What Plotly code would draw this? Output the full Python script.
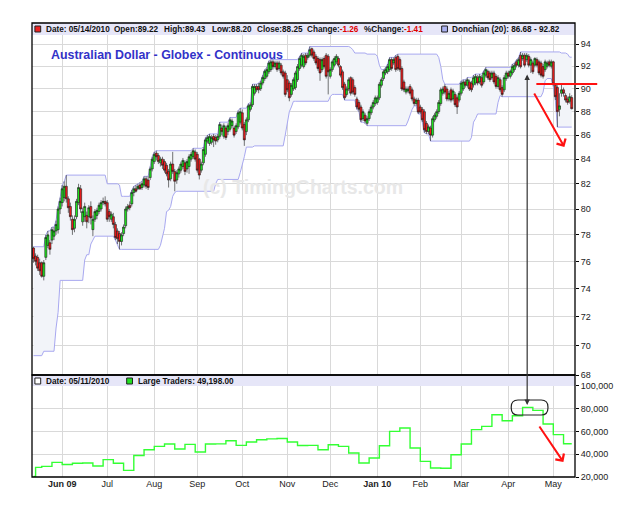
import math
import pandas as pd
import plotly.graph_objects as go

# ---------------- data ----------------
dates = pd.bdate_range("2009-05-12", "2010-05-14")
n = len(dates)
idx = list(range(n))

opens = [
    77.0, 76.4, 76.3, 75.9, 75.9, 74.9, 76.3, 77.2, 77.4, 77.6,
    77.9, 78.3, 78.4, 80.0, 80.5, 80.9, 81.8, 80.8, 80.2, 79.2,
    78.5, 79.4, 80.5, 81.6, 79.0, 79.4, 79.5, 79.4, 80.2, 78.4,
    79.2, 79.5, 79.8, 80.0, 80.5, 80.6, 80.5, 79.8, 79.2, 79.4,
    78.8, 78.3, 78.1, 77.5, 78.1, 78.7, 80.0, 80.3, 80.4, 81.3,
    81.6, 81.6, 81.9, 81.7, 81.9, 82.4, 82.3, 82.5, 83.2, 83.8,
    84.5, 84.3, 83.7, 84.0, 83.8, 83.5, 83.0, 82.4, 83.6, 83.0,
    82.3, 82.8, 83.1, 83.4, 83.7, 83.2, 83.4, 84.0, 84.2, 84.6,
    84.4, 84.0, 83.1, 83.7, 84.4, 85.5, 85.3, 85.4, 85.9, 85.8,
    85.6, 85.9, 86.6, 85.9, 86.6, 86.3, 86.5, 86.8, 86.6, 86.3,
    86.7, 87.1, 87.9, 86.9, 86.3, 87.3, 88.2, 88.6, 89.6, 90.2,
    90.2, 90.0, 90.5, 90.9, 91.1, 91.5, 91.7, 92.4, 91.97, 92.3,
    91.8, 92.1, 91.5, 91.4, 90.8, 90.5, 89.5, 89.98, 90.1, 90.8,
    91.8, 92.1, 91.97, 93.0, 92.8, 93.0, 93.6, 93.3, 92.9, 92.7,
    92.6, 91.7, 92.7, 93.0, 92.9, 91.1, 91.7, 92.1, 92.4, 92.7,
    91.97, 91.5, 90.4, 89.5, 89.98, 90.98, 90.8, 90.1, 89.1, 88.8,
    88.4, 87.4, 87.7, 87.0, 87.4, 87.9, 88.4, 88.7, 88.8, 89.2,
    90.3, 90.9, 91.4, 91.5, 91.7, 92.6, 92.3, 92.8, 92.9, 92.6,
    91.8, 90.6, 89.7, 89.8, 90.2, 89.9, 89.1, 88.7, 89.0, 88.4,
    88.2, 88.0, 87.0, 86.3, 86.6, 86.0, 87.3, 87.6, 88.0, 88.7,
    89.6, 90.2, 89.98, 89.1, 89.9, 89.1, 89.5, 89.2, 89.0, 89.6,
    89.98, 90.6, 90.3, 90.6, 90.5, 90.34, 90.5, 90.98, 90.6, 90.98,
    90.6, 91.2, 91.55, 91.4, 90.98, 91.4, 91.1, 90.2, 90.8, 90.1,
    89.9, 90.9, 91.4, 91.1, 91.4, 91.7, 92.4, 92.1, 93.0, 92.7,
    93.0, 92.6, 92.9, 92.1, 92.3, 92.1, 92.6, 92.4, 92.3, 91.97,
    91.7, 92.0, 92.4, 92.0, 92.4, 90.3, 90.1, 88.2, 89.6, 89.9,
    89.4, 89.1, 88.9, 89.22,
]
highs = [
    77.1, 76.6, 76.5, 76.2, 76.0, 76.1, 78.0, 78.3, 77.6, 78.6,
    78.6, 79.1, 80.2, 80.9, 81.9, 82.2, 82.7, 81.0, 80.5, 79.5,
    79.5, 80.8, 82.0, 81.9, 80.1, 80.5, 79.8, 80.3, 80.6, 79.5,
    80.0, 80.1, 80.5, 80.7, 80.9, 81.0, 80.7, 80.0, 79.8, 79.7,
    79.0, 78.5, 78.3, 78.2, 78.8, 80.2, 80.4, 80.6, 81.5, 81.8,
    81.9, 82.0, 82.1, 82.2, 82.6, 82.6, 82.6, 83.4, 84.2, 84.6,
    84.7, 84.5, 84.2, 84.2, 84.0, 83.7, 83.2, 83.8, 84.6, 83.2,
    83.1, 83.4, 83.8, 84.1, 83.9, 84.0, 84.4, 84.6, 84.9, 84.8,
    84.6, 84.1, 83.8, 85.0, 85.8, 86.0, 86.1, 86.0, 86.1, 86.0,
    86.1, 87.1, 86.9, 87.0, 86.8, 87.0, 87.5, 87.4, 86.8, 87.0,
    88.1, 88.3, 88.2, 87.1, 87.5, 88.7, 88.8, 90.4, 90.4, 90.4,
    90.5, 90.7, 91.2, 91.7, 91.9, 92.5, 92.6, 92.6, 92.5, 92.5,
    92.5, 92.3, 91.7, 91.6, 91.2, 90.7, 90.5, 91.0, 91.6, 92.2,
    92.9, 93.2, 93.1, 93.2, 93.2, 93.8, 93.7, 93.5, 93.1, 92.9,
    92.8, 92.8, 92.9, 93.2, 93.1, 91.9, 92.6, 92.9, 93.1, 92.9,
    92.1, 91.7, 90.6, 90.2, 91.0, 91.1, 91.0, 90.3, 89.3, 89.0,
    88.6, 88.2, 87.9, 87.6, 88.2, 88.6, 89.0, 89.4, 89.4, 90.6,
    91.0, 91.7, 91.9, 92.2, 92.8, 92.8, 92.8, 93.0, 93.1, 92.8,
    92.0, 90.8, 90.2, 90.2, 90.4, 90.1, 89.3, 89.2, 89.2, 88.6,
    88.4, 88.2, 87.2, 86.9, 86.8, 87.6, 87.9, 88.2, 89.0, 90.1,
    90.2, 90.4, 90.2, 89.8, 90.1, 90.0, 89.7, 89.4, 89.8, 90.7,
    90.8, 90.8, 91.0, 90.8, 90.7, 91.2, 91.3, 91.2, 91.3, 91.2,
    91.6, 91.9, 91.7, 91.6, 91.6, 91.6, 91.3, 91.2, 91.0, 90.3,
    91.2, 91.6, 91.6, 91.7, 92.2, 92.3, 92.6, 92.8, 93.3, 93.2,
    93.2, 93.2, 93.1, 92.8, 92.5, 92.82, 92.8, 92.6, 92.5, 92.2,
    92.6, 92.5, 92.6, 92.6, 92.5, 90.5, 90.3, 89.6, 90.4, 90.1,
    89.6, 89.3, 89.6, 89.43,
]
lows = [
    75.9, 75.7, 75.3, 75.0, 74.8, 74.6, 76.1, 77.0, 76.5, 77.3,
    77.6, 78.0, 78.1, 79.6, 80.2, 80.6, 80.5, 79.7, 79.1, 78.0,
    78.2, 79.2, 80.3, 79.7, 78.7, 79.0, 78.5, 78.9, 78.8, 77.9,
    79.0, 79.2, 79.6, 79.8, 80.3, 80.2, 79.0, 79.0, 79.0, 78.5,
    77.6, 77.3, 76.9, 77.2, 77.9, 78.5, 79.8, 79.9, 80.2, 81.0,
    81.3, 81.5, 81.5, 81.5, 81.7, 81.6, 81.5, 82.3, 83.0, 83.6,
    83.9, 83.6, 83.4, 83.2, 82.9, 82.6, 81.7, 82.2, 82.8, 81.4,
    82.0, 82.5, 82.9, 83.2, 82.7, 82.9, 82.8, 83.8, 84.0, 83.8,
    82.9, 82.35, 82.9, 83.5, 84.2, 85.3, 85.1, 85.2, 85.0, 85.2,
    85.4, 85.7, 86.0, 85.7, 85.6, 86.0, 86.3, 86.6, 85.8, 86.1,
    86.5, 86.9, 86.4, 85.1, 86.0, 87.1, 88.0, 88.4, 89.4, 89.7,
    89.6, 89.8, 90.3, 90.7, 90.9, 91.3, 91.5, 91.7, 91.8, 91.5,
    91.6, 91.2, 90.9, 89.3, 89.7, 88.9, 89.3, 89.8, 89.9, 90.6,
    91.6, 91.9, 91.8, 92.1, 92.6, 92.8, 92.8, 92.5, 92.1, 91.6,
    90.7, 91.5, 91.8, 90.9, 89.5, 90.9, 91.5, 91.9, 92.2, 91.9,
    91.0, 89.9, 89.0, 89.3, 89.8, 89.4, 89.5, 89.3, 88.2, 88.0,
    87.1, 87.2, 87.0, 86.8, 87.2, 87.7, 88.2, 88.5, 88.6, 89.0,
    90.1, 90.7, 91.2, 91.3, 91.5, 91.6, 92.1, 91.5, 91.6, 91.5,
    89.8, 89.7, 89.5, 89.6, 89.4, 88.9, 88.5, 88.5, 87.8, 87.8,
    87.1, 86.2, 86.1, 86.1, 85.5, 85.8, 87.1, 87.4, 87.8, 88.5,
    89.4, 89.5, 88.9, 88.9, 88.8, 88.9, 88.4, 87.8, 88.8, 89.4,
    89.8, 90.1, 90.1, 89.8, 89.7, 90.1, 90.3, 90.3, 90.4, 90.1,
    90.4, 91.0, 90.8, 90.6, 90.8, 90.4, 90.0, 90.0, 89.7, 89.3,
    89.7, 90.7, 90.9, 90.9, 91.2, 91.5, 91.9, 91.9, 91.8, 92.5,
    91.9, 92.4, 91.9, 91.4, 91.3, 91.9, 91.9, 91.2, 91.0, 90.9,
    91.5, 91.8, 91.9, 91.8, 90.2, 89.0, 86.68, 87.6, 89.3, 89.3,
    88.8, 88.6, 88.7, 88.20,
]
closes = [
    76.2, 76.0, 75.5, 75.3, 74.9, 75.9, 77.8, 78.0, 76.9, 78.4,
    78.3, 78.8, 80.0, 80.6, 81.6, 81.8, 80.8, 80.1, 79.4, 78.4,
    79.2, 80.6, 81.7, 80.0, 79.8, 80.2, 79.0, 80.1, 79.3, 79.2,
    79.8, 79.9, 80.3, 80.5, 80.6, 80.4, 79.2, 79.4, 79.6, 78.8,
    77.8, 77.7, 77.5, 78.0, 78.6, 80.0, 80.2, 80.1, 81.3, 81.6,
    81.4, 81.8, 81.6, 82.0, 82.4, 81.8, 81.7, 83.2, 84.0, 84.4,
    84.2, 83.8, 84.0, 83.5, 83.1, 82.8, 82.3, 83.6, 83.0, 82.2,
    82.9, 83.2, 83.6, 83.9, 83.0, 83.8, 84.2, 84.4, 84.7, 84.0,
    83.1, 82.7, 83.6, 84.8, 85.6, 85.8, 85.9, 85.8, 85.6, 85.5,
    85.9, 86.9, 86.3, 86.8, 85.8, 86.8, 87.3, 87.2, 86.0, 86.8,
    87.9, 88.0, 86.6, 85.6, 87.3, 88.5, 88.6, 90.2, 90.2, 89.9,
    89.9, 90.5, 91.0, 91.55, 91.7, 92.3, 92.4, 91.95, 92.3, 91.7,
    92.3, 91.4, 91.1, 89.5, 89.9, 89.2, 90.3, 90.8, 91.4, 91.97,
    92.7, 93.0, 92.9, 92.3, 93.0, 93.5, 93.0, 92.7, 92.3, 91.8,
    91.4, 92.6, 91.97, 91.1, 91.5, 91.7, 92.4, 92.7, 92.9, 92.1,
    91.2, 90.1, 89.2, 89.98, 90.8, 89.6, 89.7, 89.5, 88.4, 88.2,
    87.3, 88.0, 87.2, 87.4, 88.0, 88.4, 88.8, 89.2, 89.2, 90.4,
    90.8, 91.5, 91.7, 91.97, 92.6, 91.8, 92.6, 91.7, 91.8, 91.7,
    89.98, 89.9, 89.98, 89.98, 89.6, 89.1, 88.7, 89.0, 87.96, 87.96,
    87.3, 86.45, 86.3, 86.7, 86.0, 87.4, 87.7, 88.0, 88.8, 89.9,
    89.98, 89.7, 89.1, 89.6, 89.0, 89.8, 88.6, 88.4, 89.6, 90.5,
    90.6, 90.3, 90.8, 89.98, 89.9, 90.98, 91.1, 90.5, 91.1, 90.3,
    91.4, 91.7, 90.98, 90.8, 91.4, 90.6, 90.2, 90.98, 89.9, 89.5,
    90.98, 91.4, 91.1, 91.55, 91.97, 92.1, 92.1, 92.6, 91.95, 93.0,
    92.1, 93.0, 92.1, 92.6, 91.5, 92.7, 92.1, 91.4, 91.2, 91.1,
    92.4, 92.3, 92.1, 92.4, 90.4, 89.3, 88.0, 88.5, 89.9, 89.6,
    89.0, 88.8, 89.3, 88.25,
]

# 19 sessions before the window (only feed the 20-day Donchian channel)
pre_highs = [71.9, 71.4, 71.0, 70.8, 70.5, 71.2, 71.6, 71.5, 71.4, 71.1,
             70.9, 72.4, 74.9, 75.6, 76.1, 76.7, 77.0, 76.9, 77.1]
pre_lows = [71.0, 70.5, 70.2, 69.8, 69.3, 70.1, 70.8, 70.4, 70.6, 70.2,
            69.6, 71.2, 72.3, 74.8, 75.3, 75.9, 76.4, 76.2, 76.6]

# Large traders (weekly COT) – first two readings, then one value per week (Mondays)
lt_start = [20500, 28400]
lt_weekly = [
    29300, 32800, 31000, 32000, 32300, 29600, 35200, 32000, 25800, 38900,
    43900, 46800, 48900, 44500, 48600, 41900, 48900, 49000, 51800, 47700,
    50700, 52700, 53400, 53800, 50700, 47600, 47700, 43900, 48300, 46800,
    41000, 32300, 36700, 47400, 60000, 62900, 45400, 33700, 27900, 27700,
    39500, 48900, 61500, 64400, 74600, 69300, 73700, 81000, 78400, 66500,
    57100, 49198,
]

month_labels = ["<b>Jun 09</b>", "Jul", "Aug", "Sep", "Oct", "Nov", "Dec",
                "<b>Jan 10</b>", "Feb", "Mar", "Apr", "May"]
price_ticks = [68, 70, 72, 74, 76, 78, 80, 82, 84, 86, 88, 90, 92, 94]
lt_ticks = [20000, 40000, 60000, 80000, 100000]

# ---------------- derived ----------------
all_h = pd.Series(pre_highs + highs)
all_l = pd.Series(pre_lows + lows)
don_up = all_h.rolling(20).max().iloc[len(pre_highs):].tolist()
don_lo = all_l.rolling(20).min().iloc[len(pre_lows):].tolist()

month_idx = []
prev = (dates[0].year, dates[0].month)
for i, d in enumerate(dates):
    if (d.year, d.month) != prev:
        month_idx.append(i)
        prev = (d.year, d.month)

mondays = [i for i, d in enumerate(dates) if d.weekday() == 0]
lt_x = [0, 1] + mondays + [n - 1]
lt_y = lt_start + lt_weekly + [lt_weekly[-1]]

# ---------------- layout geometry (pixels) ----------------
W, H = 625, 505
L, R, T, B = 32, 594, 23, 477
SPLIT = 375


def px(xp):
    return (xp - L) / (R - L)


def py(yp):
    return (B - yp) / (B - T)


FONT = "Liberation Sans, Arial, sans-serif"
GRID = "#d9d9d9"
YR = [math.log10(68), math.log10(95.98)]
XR = [-0.755, 264.6]

fig = go.Figure()
fig.add_trace(go.Scatter(x=idx, y=don_lo, mode="lines",
                         line=dict(color="#a8a8f0", width=1),
                         hoverinfo="skip", xaxis="x", yaxis="y"))
fig.add_trace(go.Scatter(x=idx, y=don_up, mode="lines",
                         line=dict(color="#a8a8f0", width=1),
                         fill="tonexty", fillcolor="#f2f4f9",
                         hoverinfo="skip", xaxis="x", yaxis="y"))
# candles on an overlaying axis so they are drawn above the channel fill
fig.add_trace(go.Candlestick(
    x=idx, open=opens, high=highs, low=lows, close=closes,
    increasing=dict(fillcolor="#1ee61e", line=dict(color="#1a1a1a", width=0.6)),
    decreasing=dict(fillcolor="#f01c1c", line=dict(color="#1a1a1a", width=0.6)),
    whiskerwidth=0, xaxis="x", yaxis="y3"))
fig.add_trace(go.Scatter(x=lt_x, y=lt_y, mode="lines", line_shape="hv",
                         line=dict(color="#33ff33", width=1.4),
                         hoverinfo="skip", xaxis="x2", yaxis="y2"))

fig.update_layout(
    width=W, height=H, autosize=False,
    margin=dict(l=L, r=W - R, t=T, b=H - B, pad=0),
    paper_bgcolor="white", plot_bgcolor="white",
    showlegend=False, hovermode=False,
    boxgap=0.0, boxgroupgap=0.0,
    font=dict(family=FONT, size=9, color="#222222"),
    xaxis=dict(domain=[0, 1], anchor="y", range=XR, tickvals=month_idx,
               showticklabels=False, showgrid=True, gridcolor=GRID, gridwidth=1,
               zeroline=False, ticks="", rangeslider=dict(visible=False),
               fixedrange=True),
    xaxis2=dict(domain=[0, 1], anchor="y2", matches="x", range=XR,
                tickvals=month_idx, ticktext=month_labels,
                showgrid=True, gridcolor=GRID, gridwidth=1, zeroline=False,
                ticks="", tickfont=dict(size=9, color="#222222")),
    yaxis=dict(domain=[py(SPLIT), 1], anchor="x", type="log", range=YR,
               side="right", tickvals=price_ticks,
               ticktext=[str(v) for v in price_ticks],
               ticks="outside", ticklen=3, tickcolor="#000000",
               showgrid=True, gridcolor=GRID, zeroline=False,
               tickfont=dict(size=9, color="#222222")),
    yaxis3=dict(overlaying="y", anchor="x", type="log", range=YR, side="right",
                showgrid=False, showticklabels=False, ticks="", zeroline=False,
                showline=False),
    yaxis2=dict(domain=[0, py(SPLIT)], anchor="x2", range=[20000, 109400],
                side="right", tickvals=lt_ticks, tickformat=",",
                ticks="outside", ticklen=3, tickcolor="#000000",
                showgrid=True, gridcolor=GRID, zeroline=False,
                tickfont=dict(size=9, color="#222222")),
)

shapes = []
# header bars
shapes.append(dict(type="rect", xref="paper", yref="paper",
                   x0=0, x1=1, y0=py(35), y1=py(T), fillcolor="#e6e6f8",
                   line=dict(width=0), layer="above"))
shapes.append(dict(type="rect", xref="paper", yref="paper",
                   x0=0, x1=1, y0=py(386), y1=py(SPLIT), fillcolor="#e6e6f8",
                   line=dict(width=0), layer="above"))
# frames
shapes.append(dict(type="rect", xref="paper", yref="paper",
                   x0=0, x1=1, y0=py(SPLIT), y1=1,
                   line=dict(color="#000000", width=1.3), layer="above"))
shapes.append(dict(type="rect", xref="paper", yref="paper",
                   x0=0, x1=1, y0=0, y1=py(SPLIT),
                   line=dict(color="#000000", width=1.3), layer="above"))
# legend squares
for (x0, y0, col) in [(35, 26, "#ee2222"), (456, 26, "#aab0f0"),
                      (35, 378, "#ffffff"), (130, 378, "#22e022")]:
    shapes.append(dict(type="rect", xref="paper", yref="paper",
                       x0=px(x0), x1=px(x0 + 6), y0=py(y0 + 6), y1=py(y0),
                       fillcolor=col, line=dict(color="#222222", width=1),
                       layer="above"))
# red horizontal line
shapes.append(dict(type="line", xref="paper", yref="paper",
                   x0=px(554), x1=px(617), y0=py(84), y1=py(84),
                   line=dict(color="#ff1111", width=2), layer="above"))
# rounded rectangle around the COT peak
rx0, rx1, ry0, ry1, rr = 528, 566, 400, 415, 7
pts = [
    ("M", rx0 + rr, ry0), ("L", rx1 - rr, ry0), ("Q", rx1, ry0, rx1, ry0 + rr),
    ("L", rx1, ry1 - rr), ("Q", rx1, ry1, rx1 - rr, ry1), ("L", rx0 + rr, ry1),
    ("Q", rx0, ry1, rx0, ry1 - rr), ("L", rx0, ry0 + rr), ("Q", rx0, ry0, rx0 + rr, ry0),
]
path = ""
for p in pts:
    if p[0] == "Q":
        path += f"Q{px(p[1]):.5f},{py(p[2]):.5f} {px(p[3]):.5f},{py(p[4]):.5f} "
    else:
        path += f"{p[0]}{px(p[1]):.5f},{py(p[2]):.5f} "
path += "Z"
shapes.append(dict(type="path", xref="paper", yref="paper", path=path,
                   line=dict(color="#222222", width=1.2), layer="above"))
fig.update_layout(shapes=shapes)

ann = []


def txt(x, y, s, size=8.2, color="#111111", bold=True, anchor="left"):
    ann.append(dict(xref="paper", yref="paper", x=px(x), y=py(y),
                    xanchor=anchor, yanchor="middle", showarrow=False,
                    text=(f"<b>{s}</b>" if bold else s),
                    font=dict(family=FONT, size=size, color=color)))


hy = 29.5
txt(44, hy, "Date: 05/14/2010")
txt(115, hy, "Open:89.22")
txt(167, hy, "High:89.43")
txt(216, hy, "Low:88.20")
txt(263, hy, "Close:88.25")
txt(315, hy, "Change:<span style='color:#e00000'>-1.26</span>")
txt(374, hy, "%Change:<span style='color:#e00000'>-1.41</span>")
txt(465, hy, "Donchian (20): 86.68 - 92.82")
ly = 381
txt(44, ly, "Date: 05/11/2010")
txt(140, ly, "Large Traders: 49,198.00")
# title
txt(50, 55, "Australian Dollar - Globex - Continuous", size=12.4, color="#3232c8")
# watermark
txt(312, 187, "(c) TimingCharts.com", size=19.5, color="#e8e8e8", anchor="center")

# arrows
ann.append(dict(xref="paper", yref="paper", x=px(544.5), y=py(405),
                axref="pixel", ayref="pixel", ax=0, ay=-332, text="",
                showarrow=True, arrowhead=2, startarrowhead=2, arrowside="end+start",
                arrowsize=0.9, startarrowsize=0.9, arrowwidth=1.2, arrowcolor="#333333"))
ann.append(dict(xref="paper", yref="paper", x=px(583), y=py(147),
                axref="pixel", ayref="pixel", ax=-31, ay=-55, text="",
                showarrow=True, arrowhead=4, arrowsize=1, arrowwidth=2,
                arrowcolor="#ff1111"))
ann.append(dict(xref="paper", yref="paper", x=px(582), y=py(462),
                axref="pixel", ayref="pixel", ax=-25, ay=-37, text="",
                showarrow=True, arrowhead=4, arrowsize=1, arrowwidth=2,
                arrowcolor="#ff1111"))
fig.update_layout(annotations=ann)

fig.write_html("out.html")
